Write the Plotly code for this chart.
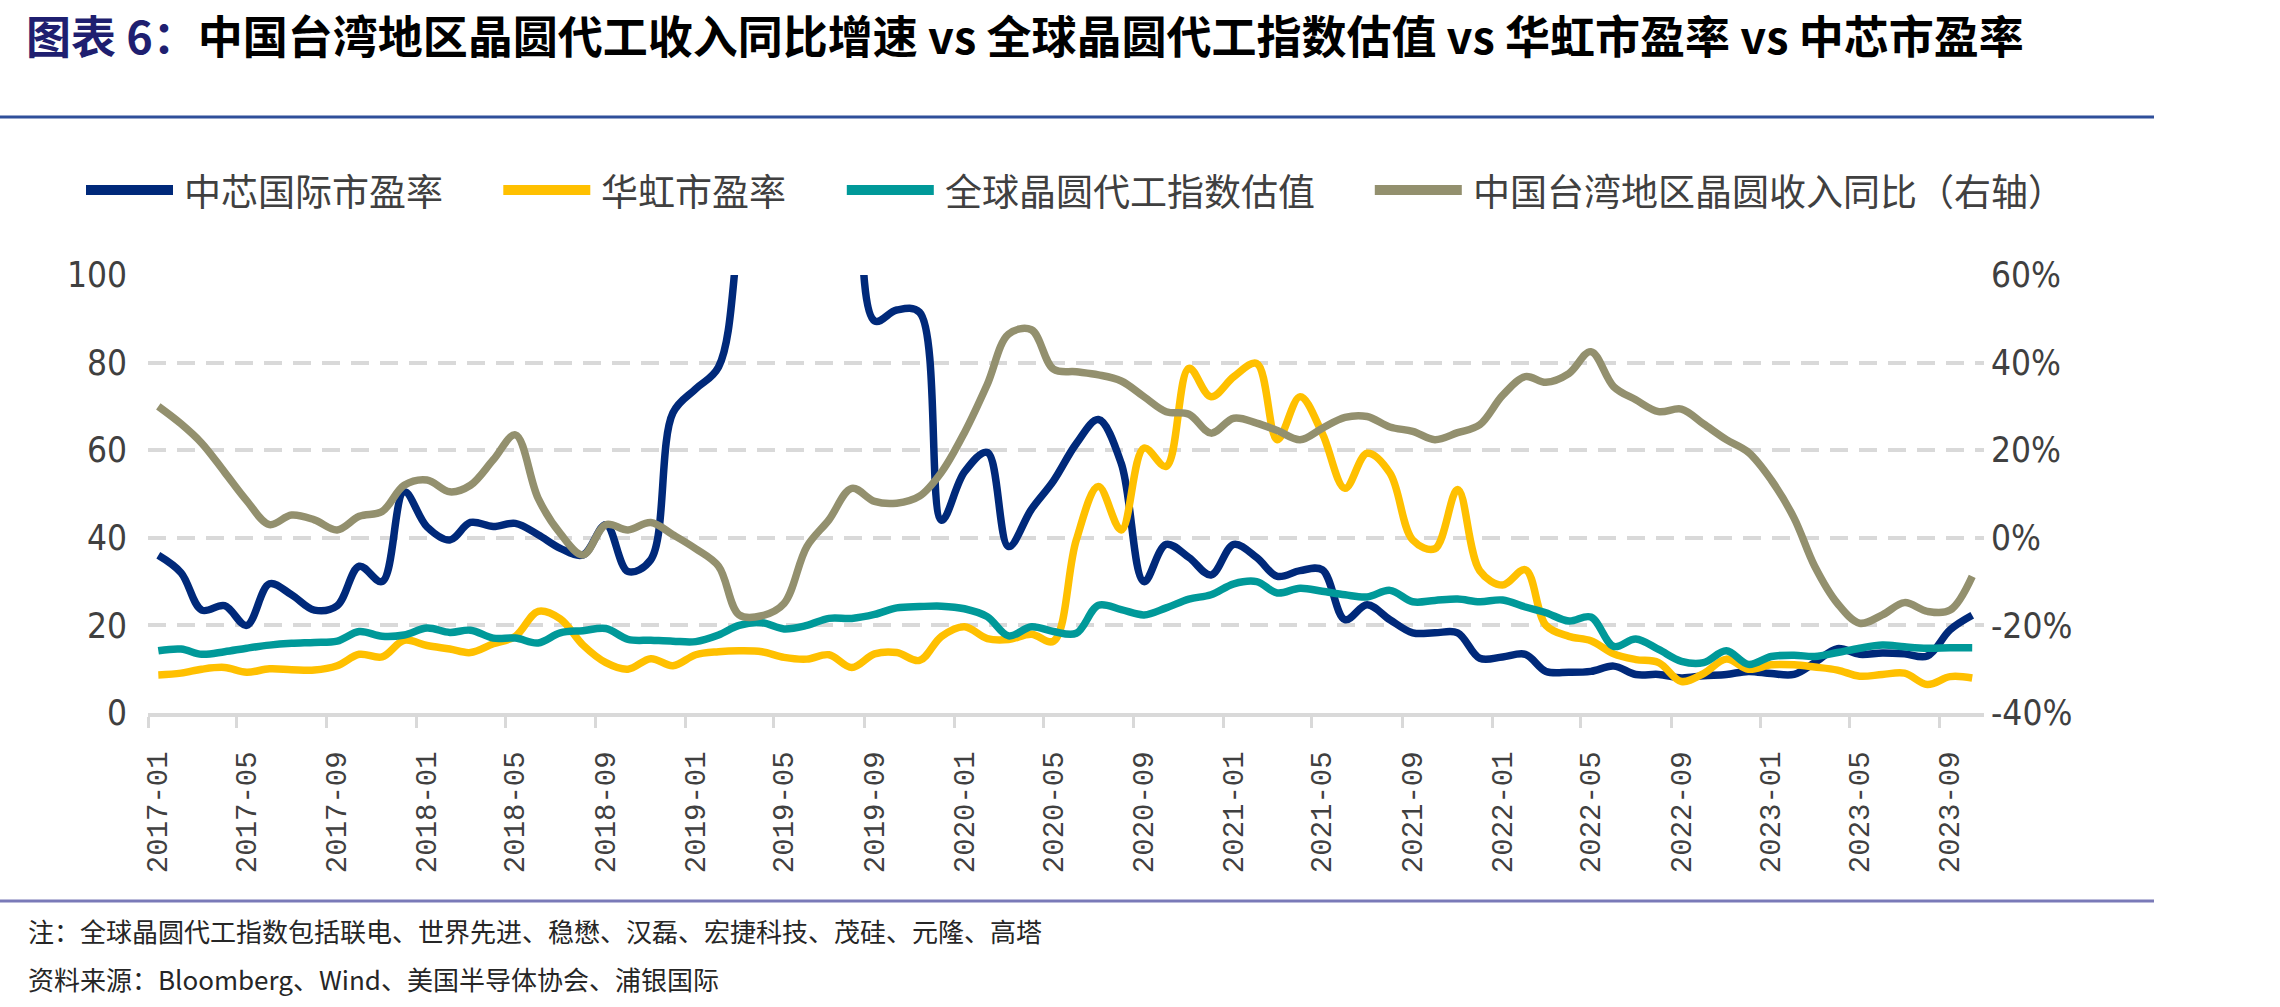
import plotly.graph_objects as go

# ---------------- data ----------------
months = []
for yr in range(2017, 2024):
    for mo in range(1, 13):
        s = f"{yr}-{mo:02d}"
        if s <= "2023-10":
            months.append(s)
x_dates = [m + "-15" for m in months]

tick_labels = ["2017-01", "2017-05", "2017-09", "2018-01", "2018-05", "2018-09",
               "2019-01", "2019-05", "2019-09", "2020-01", "2020-05", "2020-09",
               "2021-01", "2021-05", "2021-09", "2022-01", "2022-05", "2022-09",
               "2023-01", "2023-05", "2023-09"]
tick_dates = [t + "-01" for t in tick_labels]

left_ticks = [0, 20, 40, 60, 80, 100]
right_tick_vals = [-40, -20, 0, 20, 40, 60]
right_tick_text = ["-40%", "-20%", "0%", "20%", "40%", "60%"]

series_names = ["中芯国际市盈率", "华虹市盈率", "全球晶圆代工指数估值", "中国台湾地区晶圆收入同比（右轴）"]

smic_pe = [36, 32, 23.5, 24.5, 20, 29.5, 27, 23.5, 24.5, 33.5,
           30, 50.5, 42.5, 39.5, 43.5, 42.6, 43.3, 40.7, 37.6, 36.1,
           43, 32.3, 35, 68.5, 74, 79, 110, 150, 170, 165,
           150, 140, 89.5, 92, 91.5, 44, 55, 59.5, 38, 46.5,
           53, 61.5, 67, 57, 30, 38.5, 35.5, 31.5, 38.5, 35.5,
           31.2, 32.5, 32.7, 21.3, 24.7, 21.3, 18.3, 18.3, 18.3, 12.5,
           12.8, 13.4, 9.5, 9.3, 9.5, 10.7, 8.8, 8.8, 8.0, 8.5,
           8.8, 9.5, 9.0, 8.8, 11.5, 14.7, 13.4, 13.7, 13.5, 13.0,
           19.0, 22.3]

huahong_pe = [8.7, 9.1, 10.0, 10.4, 9.3, 10.1, 9.9, 9.8, 10.8, 13.4,
              12.8, 16.6, 15.4, 14.6, 13.8, 15.8, 17.5, 23.2, 21.5, 15.5,
              11.5, 10.0, 12.4, 10.8, 13.3, 14.0, 14.2, 14.0, 12.7, 12.3,
              13.3, 10.4, 13.5, 13.8, 12.0, 17.5, 19.7, 17.0, 16.8, 18.0,
              16.4, 39.5, 51.7, 41.8, 60.5, 56.3, 78.7, 72.2, 76.8, 79.8,
              62.4, 72.2, 63.9, 51.3, 59.3, 54.8, 39.5, 37.5, 51.0, 32.5,
              29.2, 32.7, 20.0, 17.5, 16.5, 13.5, 12.2, 11.5, 7.2, 9.0,
              12.3, 10.0, 11.0, 11.0, 10.5, 9.8, 8.4, 8.8, 9.1, 6.5,
              8.3, 8.0]

foundry_index = [14.2, 14.6, 13.4, 14.0, 14.8, 15.5, 15.9, 16.1, 16.4, 18.6,
                 17.5, 17.8, 19.4, 18.4, 18.9, 17.1, 17.1, 16.0, 18.3, 18.8,
                 19.3, 16.8, 16.6, 16.4, 16.3, 17.8, 20.0, 20.6, 19.2, 20.0,
                 21.6, 21.6, 22.5, 24.0, 24.3, 24.4, 23.8, 22.0, 17.6, 19.7,
                 18.6, 18.2, 24.6, 23.6, 22.4, 24.0, 26.0, 27.0, 29.5, 30.0,
                 27.4, 28.5, 27.8, 27.0, 26.5, 28.0, 25.4, 25.7, 26.0, 25.4,
                 25.8, 24.2, 22.9, 21.0, 21.9, 15.2, 16.9, 14.5, 11.8, 11.5,
                 14.2, 11.1, 12.9, 13.2, 12.9, 13.8, 14.8, 15.5, 15.1, 14.8,
                 14.9, 14.9]

tw_rev_yoy = [30, 26, 21.6, 15, 8.5, 3, 5.2, 4.1, 1.8, 4.9,
              6, 12, 13.2, 10.5, 12, 17.8, 23.5, 9, 1, -3.9,
              3, 1.8, 3.5, 0.7, -2.5, -6.5, -17.6, -17.8, -15, -2,
              4.1, 11.3, 8.3, 7.9, 9.5, 15, 24, 35, 46.5, 47.5,
              38.5, 37.9, 37.2, 35.8, 32.2, 28.8, 28.2, 23.9, 27.3, 26.2,
              24.5, 22.4, 25, 27.5, 27.7, 25.3, 24.3, 22.4, 24, 25.8,
              32.5, 36.8, 35.5, 37.5, 42.5, 34.5, 31.5, 28.8, 29.4, 26,
              22.4, 19.5, 13.2, 4.5, -6.5, -15, -19.5, -17.6, -14.8, -16.8,
              -16.5, -8.8]

colors = ["#00297A", "#FFC000", "#009999", "#93906E"]

# ---------------- geometry ----------------
W, H = 2280, 1007
PL, PR, PT, PB = 148, 1984, 275, 713


def px(xp):
    return (xp - PL) / (PR - PL)


def py(yp):
    return (PB - yp) / (PB - PT)


fig = go.Figure()
for name, vals, col, ax in [(series_names[0], smic_pe, colors[0], "y"),
                            (series_names[1], huahong_pe, colors[1], "y"),
                            (series_names[2], foundry_index, colors[2], "y"),
                            (series_names[3], tw_rev_yoy, colors[3], "y2")]:
    fig.add_trace(go.Scatter(x=x_dates, y=vals, name=name, mode="lines", yaxis=ax,
                             line=dict(color=col, width=7.5, shape="spline", smoothing=1.0),
                             showlegend=False, hoverinfo="skip"))

tick_font = dict(family="Liberation Sans Narrow, DejaVu Sans Condensed, Open Sans, sans-serif",
                 size=35, color="#404040")

fig.update_layout(
    width=W, height=H,
    margin=dict(l=PL, r=W - PR, t=PT, b=H - PB, pad=0),
    paper_bgcolor="white", plot_bgcolor="white",
    showlegend=False,
    title=dict(
        text="<b><span style='color:#1F1F70'>图表 6：</span>中国台湾地区晶圆代工收入同比增速 vs 全球晶圆代工指数估值 vs 华虹市盈率 vs 中芯市盈率</b>",
        font=dict(family="Noto Sans CJK SC", size=45, color="#000000"),
        x=26 / W, xanchor="left", xref="container",
        y=1 - 38 / H, yanchor="middle", yref="container"),
    xaxis=dict(type="date", range=["2017-01-01", "2023-10-31"],
               tickmode="array", tickvals=tick_dates, ticktext=tick_labels,
               tickangle=-90,
               tickfont=dict(family="Liberation Mono, DejaVu Sans Mono, monospace", size=29, color="#404040"),
               ticks="outside", ticklen=11, tickwidth=3, tickcolor="#D9D9D9",
               showline=True, linecolor="#D9D9D9", linewidth=3.5,
               showgrid=False, zeroline=False, automargin=False,
               ticklabelstandoff=12, ticklabelshift=10),
    yaxis=dict(range=[0, 100], tickmode="array", tickvals=left_ticks,
               showgrid=True, gridcolor="#D9D9D9", gridwidth=3.5, griddash="18px,11px",
               zeroline=False, showline=False, ticks="",
               tickfont=tick_font, ticklabelstandoff=20, automargin=False),
    yaxis2=dict(range=[-40, 60], overlaying="y", side="right",
                tickmode="array", tickvals=right_tick_vals, ticktext=right_tick_text,
                showgrid=False, zeroline=False, showline=False, ticks="",
                tickfont=tick_font, ticklabelstandoff=6, automargin=False),
)

shapes = []
annotations = []

# title rule and footer rule
shapes.append(dict(type="line", xref="paper", yref="paper", x0=px(0), x1=px(2154),
                   y0=py(117), y1=py(117), line=dict(color="#2F4F9A", width=3)))
shapes.append(dict(type="line", xref="paper", yref="paper", x0=px(0), x1=px(2154),
                   y0=py(901), y1=py(901), line=dict(color="#7A7AB8", width=3)))

# custom legend
leg_y = 190
x_cursor = 86
sample_len, sample_gap, char_w, item_gap = 87, 9, 36.9, 63
for name, col in zip(series_names, colors):
    shapes.append(dict(type="line", xref="paper", yref="paper",
                       x0=px(x_cursor), x1=px(x_cursor + sample_len),
                       y0=py(leg_y), y1=py(leg_y), line=dict(color=col, width=10)))
    tx = x_cursor + sample_len + sample_gap
    annotations.append(dict(xref="paper", yref="paper", x=px(tx), y=py(leg_y),
                            xanchor="left", yanchor="middle", showarrow=False,
                            text=name,
                            font=dict(family="Noto Sans CJK SC", size=37, color="#404040")))
    x_cursor = tx + len(name) * char_w + item_gap

# footnotes
notes = ["注：全球晶圆代工指数包括联电、世界先进、稳懋、汉磊、宏捷科技、茂硅、元隆、高塔",
         "资料来源：Bloomberg、Wind、美国半导体协会、浦银国际"]
for txt, yy in zip(notes, [930, 978]):
    annotations.append(dict(xref="paper", yref="paper", x=px(26), y=py(yy),
                            xanchor="left", yanchor="middle", showarrow=False,
                            text=txt,
                            font=dict(family="Noto Sans CJK SC", size=26, color="#262626")))

fig.update_layout(shapes=shapes, annotations=annotations)
fig.write_html("out.html")
